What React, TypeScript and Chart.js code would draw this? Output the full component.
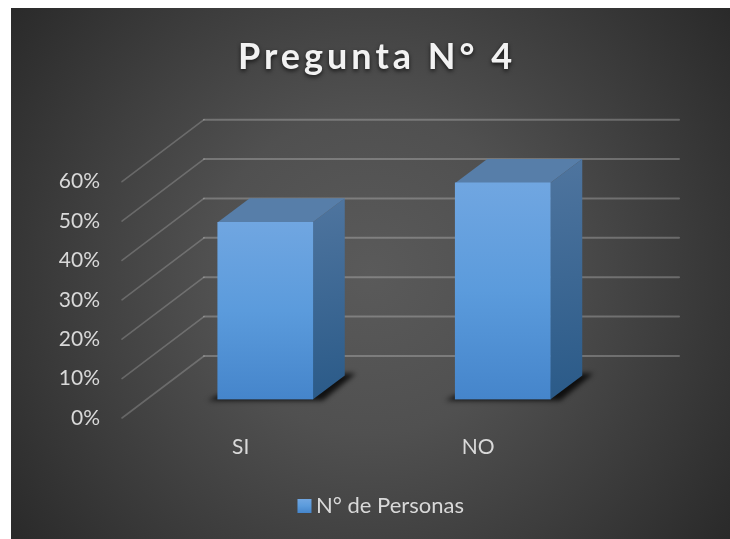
import { useEffect, useRef } from "react";
import { Chart, registerables } from "chart.js";

Chart.register(...registerables);

const categories = ["SI", "NO"];
const seriesName = "N° de Personas";
const personas = [45, 55];
const titleText = "Pregunta N° 4";
const axisMax = 60;
const axisStep = 10;

const FONT = "Lato, Carlito, Calibri, sans-serif";
const TEXT = "#d9d9d9";

// Oblique projection: full floor depth and the slab occupied by the bars
const WALL_DX = 82;
const WALL_DY = 62;
const BAR_SHIFT_X = 24.5;
const BAR_SHIFT_Y = 18.5;
const BAR_DX = 32;
const BAR_DY = 24;

const panelPlugin = {
  id: "panel",
  beforeDraw(chart: any) {
    const { ctx, width, height } = chart;
    ctx.save();
    ctx.fillStyle = "#ffffff";
    ctx.fillRect(0, 0, width, height);
    const cx = 370;
    const cy = 273;
    const g = ctx.createRadialGradient(cx, cy, 0, cx, cy, 460);
    g.addColorStop(0, "#5a5a5a");
    g.addColorStop(0.35, "#505050");
    g.addColorStop(1, "#282828");
    ctx.fillStyle = g;
    ctx.fillRect(11, 8, width - 11, height - 8);
    ctx.restore();
  },
};

// Gridlines run along the left wall and then across the back wall
const wallGridPlugin = {
  id: "wallGrid",
  beforeDatasetsDraw(chart: any) {
    const { ctx, chartArea, scales } = chart;
    ctx.save();
    ctx.lineCap = "round";
    for (const tick of scales.y.ticks) {
      const y = scales.y.getPixelForValue(tick.value);
      ctx.strokeStyle = "rgba(255,255,255,0.2)";
      ctx.lineWidth = 1.6;
      ctx.beginPath();
      ctx.moveTo(chartArea.left, y);
      ctx.lineTo(chartArea.left + WALL_DX, y - WALL_DY);
      ctx.stroke();
      ctx.strokeStyle = "rgba(255,255,255,0.24)";
      ctx.lineWidth = 2;
      ctx.beginPath();
      ctx.moveTo(chartArea.left + WALL_DX, y - WALL_DY);
      ctx.lineTo(chartArea.right + WALL_DX, y - WALL_DY);
      ctx.stroke();
    }
    ctx.restore();
  },
};

function polygon(ctx: any, pts: number[][]) {
  ctx.beginPath();
  pts.forEach(([x, y], i) => (i ? ctx.lineTo(x, y) : ctx.moveTo(x, y)));
  ctx.closePath();
}

// Floor shadow, side and top faces; the front face is the library's own bar element
const prismPlugin = {
  id: "prism",
  beforeDatasetsDraw(chart: any) {
    const { ctx } = chart;
    const bars = chart.getDatasetMeta(0).data;
    ctx.save();
    ctx.translate(BAR_SHIFT_X, -BAR_SHIFT_Y);
    for (const bar of bars) {
      const { x, y, base, width } = bar.getProps(["x", "y", "base", "width"], true);
      const l = x - width / 2;
      const r = x + width / 2;

      ctx.save();
      ctx.filter = "blur(2.5px)";
      ctx.fillStyle = "rgba(0,0,0,0.8)";
      polygon(ctx, [
        [l - 10, base + 1],
        [r + 10, base + 1],
        [r + BAR_DX + 11, base - BAR_DY - 2],
        [r + BAR_DX, base - BAR_DY - 2],
        [l, base - 4],
      ]);
      ctx.fill();
      ctx.restore();

      const side = ctx.createLinearGradient(r, y - BAR_DY, r + BAR_DX, base);
      side.addColorStop(0, "#4f759f");
      side.addColorStop(1, "#2a5a88");
      ctx.fillStyle = side;
      polygon(ctx, [
        [r, y],
        [r + BAR_DX, y - BAR_DY],
        [r + BAR_DX, base - BAR_DY],
        [r, base],
      ]);
      ctx.fill();

      ctx.fillStyle = "#577ea9";
      polygon(ctx, [
        [l, y],
        [l + BAR_DX, y - BAR_DY],
        [r + BAR_DX, y - BAR_DY],
        [r, y],
      ]);
      ctx.fill();
    }
    // Left open so the bar elements below share this offset
  },
  afterDatasetsDraw(chart: any) {
    chart.ctx.restore();
  },
};

// Adds tracking and a soft drop shadow to the title block
const titleStylePlugin = {
  id: "titleStyle",
  afterLayout(chart: any) {
    const block = chart.titleBlock;
    if (!block || block.__styled) return;
    const draw = block.draw.bind(block);
    block.draw = () => {
      const { ctx } = chart;
      ctx.save();
      ctx.translate(-3, 0);
      ctx.letterSpacing = "4px";
      ctx.shadowColor = "rgba(0,0,0,0.7)";
      ctx.shadowBlur = 4;
      ctx.shadowOffsetY = 2;
      draw();
      ctx.restore();
    };
    block.__styled = true;
  },
};

// Tightens the legend: its swatch sits close to the label text
const legendSwatchPlugin = {
  id: "legendSwatch",
  afterLayout(chart: any) {
    const legend = chart.legend;
    if (!legend || legend.__styled) return;
    const draw = legend.draw.bind(legend);
    legend.draw = () => {
      const { ctx } = chart;
      ctx.save();
      ctx.translate(-2.5, 0);
      draw();
      ctx.restore();
      const box = legend.legendHitBoxes[0];
      const top = box.top + (box.height - 14) / 2;
      ctx.save();
      ctx.fillStyle = frontGradient(chart, top, top + 14);
      ctx.fillRect(box.left + 4, top, 14, 14);
      ctx.restore();
    };
    legend.__styled = true;
  },
};

function frontGradient(chart: any, top: number, bottom: number) {
  const g = chart.ctx.createLinearGradient(0, top, 0, bottom);
  g.addColorStop(0, "#70a6e1");
  g.addColorStop(0.5, "#5b9bdc");
  g.addColorStop(1, "#4585cb");
  return g;
}

export default function App() {
  const ref = useRef<HTMLCanvasElement>(null);

  useEffect(() => {
    const chart = new Chart(ref.current as HTMLCanvasElement, {
      type: "bar",
      data: {
        labels: categories,
        datasets: [
          {
            label: seriesName,
            data: personas,
            barThickness: 95,
            borderWidth: 0,
            backgroundColor: (c: any) => {
              const y = c.chart.scales?.y;
              if (!y || c.dataIndex === undefined) return "#5b9bd5";
              return frontGradient(c.chart, y.getPixelForValue(personas[c.dataIndex]), y.getPixelForValue(0));
            },
          },
        ],
      },
      options: {
        responsive: false,
        animation: false,
        events: [],
        layout: { autoPadding: false, padding: { left: 30, right: 0, top: 0, bottom: 12 } },
        plugins: {
          tooltip: { enabled: false },
          title: {
            display: true,
            text: titleText,
            color: "#f2f2f2",
            font: { family: FONT, size: 36, weight: "bold" },
            padding: { top: 36, bottom: 102.5 },
          },
          legend: {
            position: "bottom",
            labels: {
              color: TEXT,
              font: { family: FONT, size: 22 },
              boxWidth: 14,
              boxHeight: 14,
              padding: 8,
              generateLabels: () => [
                {
                  text: seriesName,
                  fillStyle: "transparent",
                  strokeStyle: "transparent",
                  lineWidth: 0,
                  fontColor: TEXT,
                  datasetIndex: 0,
                },
              ],
            },
          },
        },
        scales: {
          x: {
            grid: { display: false },
            border: { display: false },
            ticks: { color: TEXT, font: { family: FONT, size: 21 }, padding: 9, maxRotation: 0 },
            afterFit: (s: any) => {
              s.height = 69;
            },
          },
          y: {
            min: 0,
            max: axisMax,
            grid: { display: false },
            border: { display: false },
            ticks: {
              stepSize: axisStep,
              color: TEXT,
              font: { family: FONT, size: 21 },
              padding: 14,
              callback: (v: any) => `${v}%`,
            },
            afterFit: (s: any) => {
              s.width = 92;
            },
          },
          // Reserves the room taken by the receding back wall
          depth: {
            position: "right",
            grid: { display: false },
            border: { display: false },
            ticks: { display: false },
            afterFit: (s: any) => {
              s.width = 133;
            },
          },
        },
      } as any,
      plugins: [panelPlugin, titleStylePlugin, legendSwatchPlugin, wallGridPlugin, prismPlugin],
    });
    return () => chart.destroy();
  }, []);

  return (
    <canvas
      ref={ref}
      width={730}
      height={539}
      style={{ position: "fixed", left: 0, top: 0, display: "block" }}
    />
  );
}
